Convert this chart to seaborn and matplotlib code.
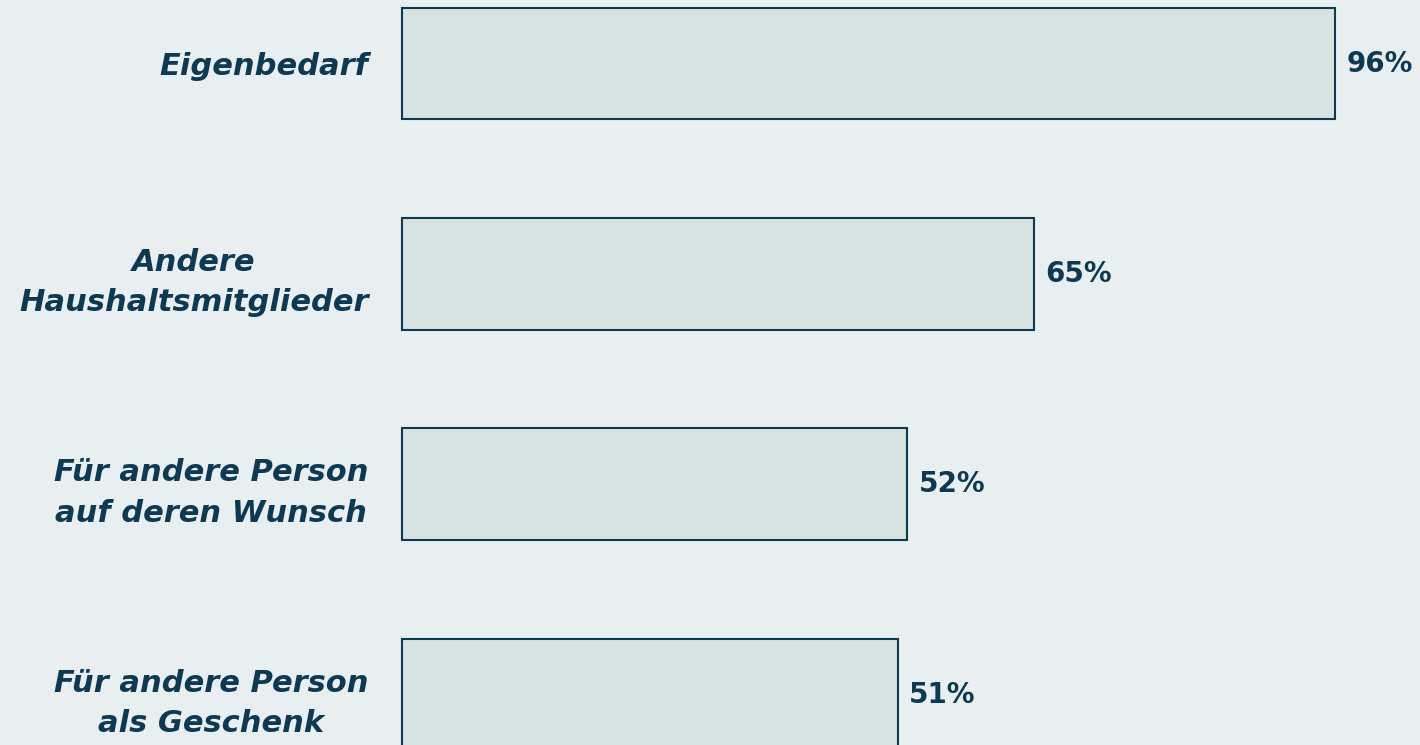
import pandas as pd
import matplotlib.pyplot as plt
import seaborn as sns

# chart data
categories = ['Eigenbedarf', 'Andere\nHaushaltsmitglieder',
              'Für andere Person\nauf deren Wunsch', 'Für andere Person\nals Geschenk']
values = [96, 65, 52, 51]

data = pd.DataFrame({'Kategorie': categories, 'Anteil': values})

bg = '#e9eef0'
bar_fill = '#d8e2e1'
navy = '#0d3a52'

sns.set_theme(style='white')
plt.rcParams['font.family'] = ['DejaVu Sans']

fig = plt.figure(figsize=(14.2, 7.45), dpi=100, facecolor=bg)
ax = fig.add_axes([402 / 1420, 0, 1 - 402 / 1420, 1])
ax.set_facecolor(bg)

sns.barplot(data=data, x='Anteil', y='Kategorie', orient='h', ax=ax,
            color=bar_fill, edgecolor=navy, linewidth=1.5, width=0.53,
            saturation=1)
for p in ax.patches:
    p.set_clip_on(False)

ax.set_xlim(0, 1018 / 9.72)
ax.set_ylim(3.24, -0.302)

# value labels
for i, v in enumerate(values):
    ax.annotate(f'{v}%', (v, i), xytext=(8, 0), textcoords='offset points',
                va='center', ha='left', fontsize=20, fontweight='bold', color=navy)

ax.set_xlabel('')
ax.set_ylabel('')
ax.set_xticks([])
ax.tick_params(axis='y', length=0, pad=24)
for lbl in ax.get_yticklabels():
    lbl.set_fontsize(22)
    lbl.set_fontweight('bold')
    lbl.set_fontstyle('italic')
    lbl.set_color(navy)
    lbl.set_multialignment('center')
    lbl.set_linespacing(1.5)
sns.despine(ax=ax, left=True, bottom=True)

fig.savefig('out.png', dpi=100, facecolor=bg)
